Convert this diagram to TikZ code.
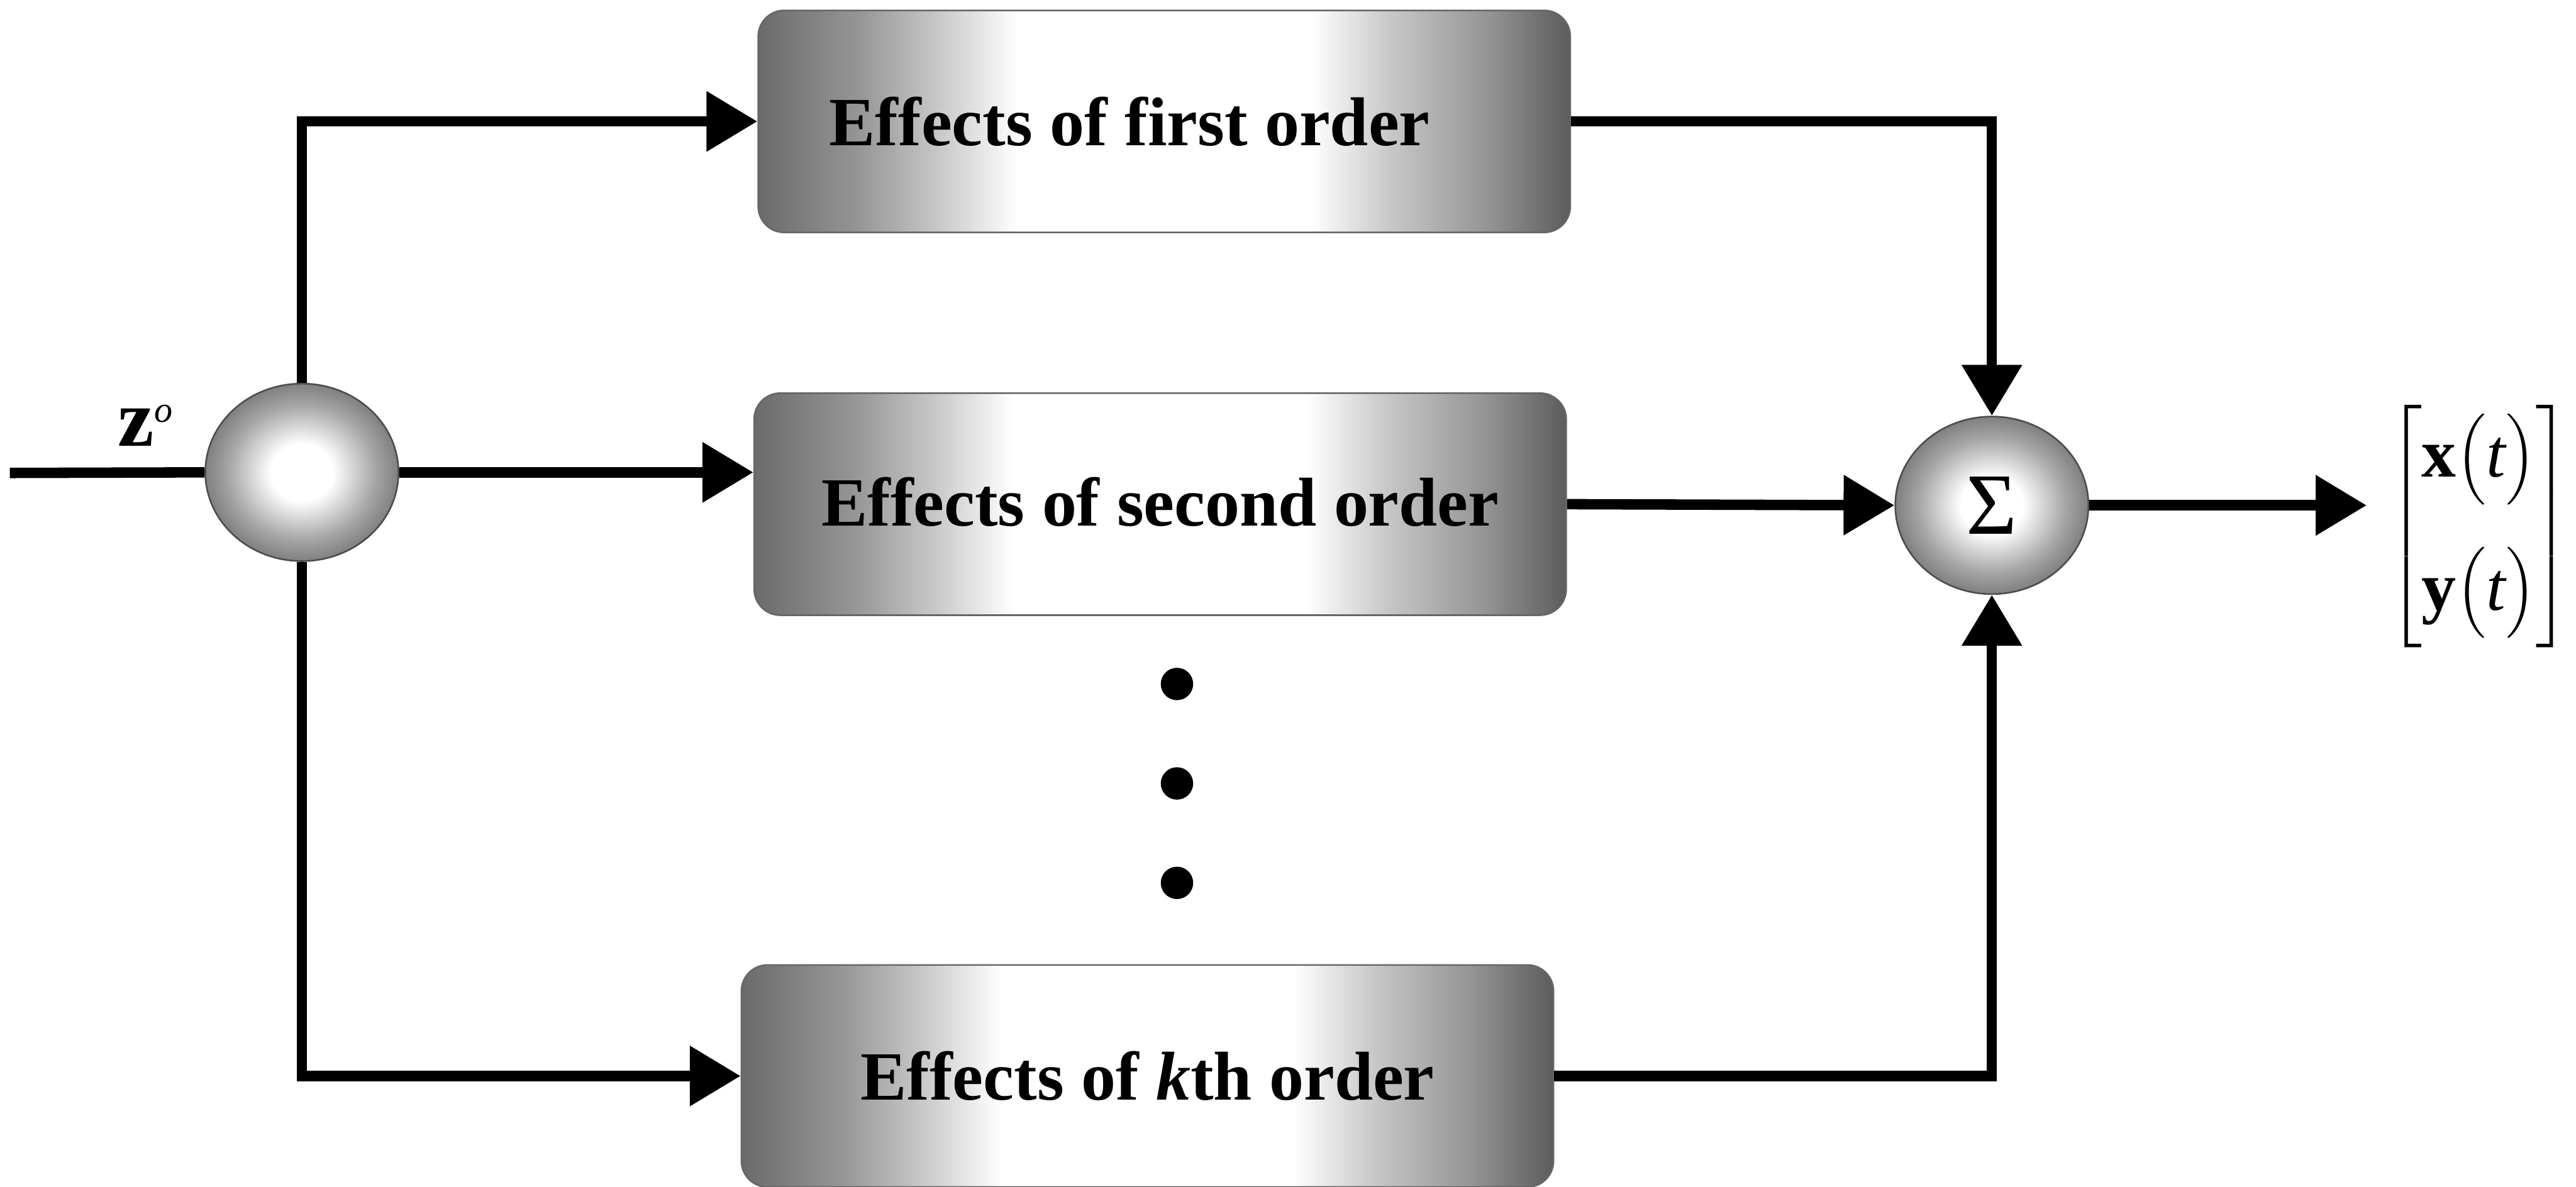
\RequirePackage{fix-cm}
\documentclass[tikz,border=0pt]{standalone}
\usepackage{amsmath}
\usepackage{fontspec}
\setmainfont{Liberation Serif}
\usetikzlibrary{shapes.geometric,arrows.meta,positioning}

% grey band shading of the boxes and the ball shading of the junctions
\pgfdeclarehorizontalshading{effectshade}{100bp}{color(0bp)=(black!58); color(25bp)=(black!58); color(31bp)=(black!42); color(36bp)=(black!22); color(41bp)=(white); color(59bp)=(white); color(64bp)=(black!22); color(70bp)=(black!42); color(75bp)=(black!64); color(100bp)=(black!64)}
\pgfdeclareradialshading{junctionshade}{\pgfpoint{0bp}{0bp}}{color(0bp)=(white); color(8bp)=(white); color(19bp)=(black!35); color(25bp)=(black!50); color(50bp)=(black!50)}

\tikzset{
  effect/.style={rectangle, rounded corners=0.45cm, draw=black!60, line width=0.8pt,
    shade, shading=effectshade, minimum width=14.04cm, minimum height=3.84cm,
    inner sep=0pt, font=\fontsize{34}{40}\selectfont\bfseries},
  junction/.style={ellipse, draw=black!70, line width=0.8pt, shade, shading=junctionshade,
    minimum width=3.34cm, minimum height=3.07cm, inner sep=0pt},
  wire/.style={line width=0.18cm},
  flow/.style={line width=0.18cm, -{Triangle[length=0.88cm,width=1.0cm]}},
  dotmark/.style={circle, fill=black, minimum size=0.56cm, inner sep=0pt}
}

\begin{document}
\begin{tikzpicture}
\useasboundingbox (0,0) rectangle (44.54,-20.53);

% junctions
\node[junction] (split) at (5.22,-8.17) {};
\node[junction, font=\fontsize{43}{48}\selectfont] (sum) at (34.44,-8.74) {Σ};

% effect blocks
\node[effect] (first) at (20.13,-2.10) {\hspace*{-1.2cm}Effects of first order};
\node[effect] (second) at (20.06,-8.72) {\raisebox{0.1cm}{Effects of second order}};
\node[effect] (kth) at (19.84,-18.61) {Effects of \textit{k}th order};

% the dots between block 2 and block k
\foreach \y [count=\i] in {-11.83,-13.55,-15.27}
  \node[dotmark] (dot\i) at (20.35,\y) {};

% input and output
\coordinate (zin) at (0.17,-8.18);
\coordinate (outtip) at (40.92,-8.74);
\node[anchor=base west, font=\fontsize{40}{48}\selectfont] (zlabel) at (1.92,-7.72)
  {\textbf{z}\raisebox{0.42cm}{\fontsize{18}{20}\selectfont\textit{o}}};
\node[font=\fontsize{34}{40}\selectfont, inner sep=0pt] (vec) at (42.86,-9.10)
  {$\left[\begin{array}{@{}c@{}}\textbf{x}\bigl(\textit{t}\bigr)\\[0.8cm]\textbf{y}\bigl(\textit{t}\bigr)\end{array}\right]$};

% connections
\draw[wire] (zin) -- (split.west);
\draw[flow] (split.north) |- (first.west);
\draw[flow] (split.east) -- (split.east -| second.west);
\draw[flow] (split.south) |- (kth.west);
\draw[flow] (first.east) -| (sum.north);
\draw[flow] (second.east) -- (sum.west);
\draw[flow] (kth.east) -| (sum.south);
\draw[flow] (sum.east) -- (outtip);
\end{tikzpicture}
\end{document}
